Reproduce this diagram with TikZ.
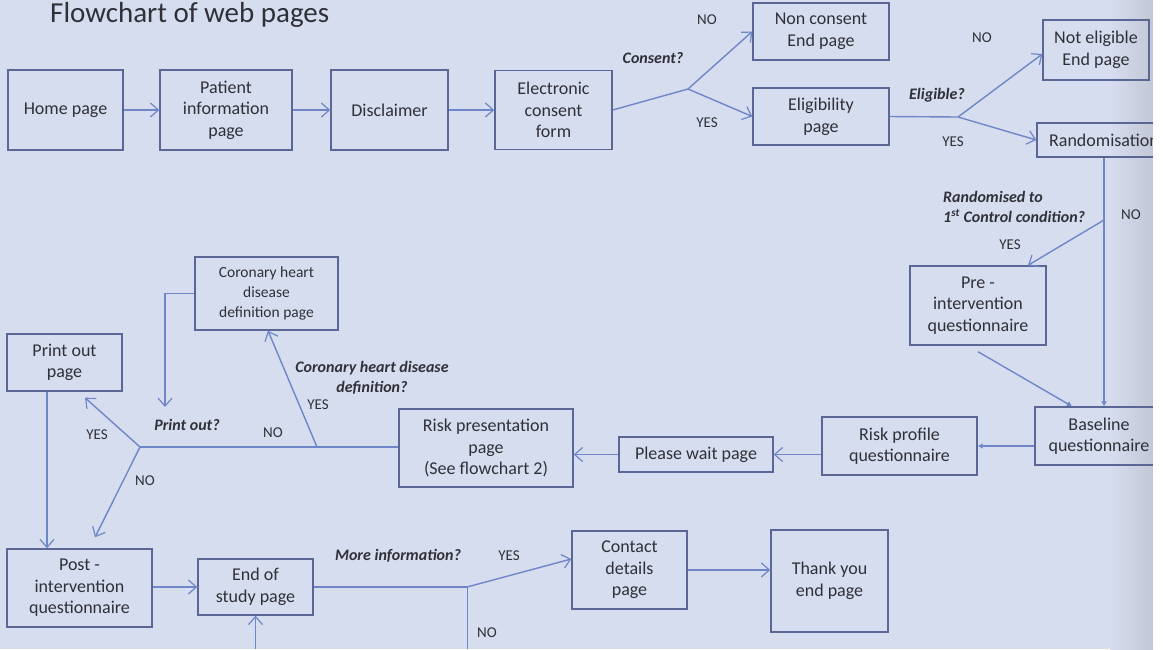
\documentclass[tikz,border=0pt]{standalone}
\usepackage{fontspec}
\setmainfont{Carlito}
\usetikzlibrary{arrows.meta,calc}

\definecolor{bg}{HTML}{D6DDEE}
\definecolor{bgdark}{HTML}{C2C7D6}
\definecolor{boxline}{HTML}{5A6794}
\definecolor{flow}{HTML}{6F86C9}
\definecolor{ink}{HTML}{303038}

\tikzset{
  pagebox/.style={draw=boxline, line width=1.4pt, text=ink, align=center,
    inner sep=0pt, font=\fontsize{18}{21.6}\selectfont},
  flowline/.style={draw=flow, line width=1.4pt},
  flowarrow/.style={flowline, -{Straight Barb[length=8pt,width=14pt,line width=1.2pt]}},
  dotarrow/.style={flowline, -{Latex[length=5pt,width=6pt]}},
  question/.style={text=ink, font=\fontsize{16}{19.5}\selectfont\bfseries\itshape,
    inner sep=0pt, align=center},
  answer/.style={text=ink, font=\fontsize{15}{18}\selectfont, inner sep=0pt},
}

\begin{document}
\begin{tikzpicture}[x=1pt,y=-1pt]
\useasboundingbox (0,0) rectangle (1163,649);
\fill[bg] (0,0) rectangle (1163,649);
\shade[left color=bg, right color=bgdark] (1110,0) rectangle (1153,649);

\begin{scope}
\clip (0,0) rectangle (1153,649);

% title
\node[anchor=base west, text=ink, font=\fontsize{29}{35}\selectfont, inner sep=0pt]
  (title) at (50,22) {Flowchart of web pages};

% pages
\node[pagebox, minimum width=115, minimum height=80] (home)     at (65.5,110)  {Home page};
\node[pagebox, minimum width=132, minimum height=80] (pinfo)    at (226,110)   {Patient\\information\\page};
\node[pagebox, minimum width=117, minimum height=80] (discl)    at (389.5,110) {Disclaimer};
\node[pagebox, minimum width=117, minimum height=79] (econs)    at (553.5,110) {Electronic\\consent\\form};
\node[pagebox, minimum width=136, minimum height=57] (noncons)  at (821,31.5)  {Non consent\\End page};
\node[pagebox, minimum width=136, minimum height=57] (elig)     at (821,116.5) {Eligibility\\page};
\node[pagebox, minimum width=106, minimum height=60] (notelig)  at (1096,50)   {Not eligible\\End page};
\node[pagebox, minimum width=134, minimum height=34] (random)   at (1104,140)  {Randomisation};
\node[pagebox, minimum width=136, minimum height=79] (preint)   at (978,305.5) {Pre -\\intervention\\questionnaire};
\node[pagebox, minimum width=128, minimum height=58] (baseline) at (1099,436)  {Baseline\\questionnaire};
\node[pagebox, minimum width=155, minimum height=58] (riskprof) at (899.5,446) {Risk profile\\questionnaire};
\node[pagebox, minimum width=154, minimum height=35] (wait)     at (696,454.5) {Please wait page};
\node[pagebox, minimum width=174, minimum height=78] (riskpres) at (486,448)   {Risk presentation\\page\\(See flowchart 2)};
\node[pagebox, minimum width=143, minimum height=73,
      font=\fontsize{15.5}{20}\selectfont]             (chd)      at (266.5,293.5) {Coronary heart\\disease\\definition page};
\node[pagebox, minimum width=115, minimum height=57] (printout) at (64.5,362.5) {Print out\\page};
\node[pagebox, minimum width=145, minimum height=78] (postint)  at (79.5,588)   {Post -\\intervention\\questionnaire};
\node[pagebox, minimum width=115, minimum height=56] (endstudy) at (255.5,587)  {End of\\study page};
\node[pagebox, minimum width=115, minimum height=78] (contact)  at (629.5,570)  {Contact\\details\\page};
\node[pagebox, minimum width=117, minimum height=102] (thanks)  at (829.5,581)  {Thank you\\end page};

% branch points and free ends
\coordinate (j1) at (688,89);
\coordinate (j2) at (958,117);
\coordinate (j3) at (1104,220);
\coordinate (j4) at (140,447);
\coordinate (j6) at (317,447);
\coordinate (pq) at (165,407);
\coordinate (j5) at (467,587);
\coordinate (eb) at (255.5,649);
\coordinate (nb) at (467,649);

% top row
\draw[flowarrow] (home) -- (pinfo);
\draw[flowarrow] (pinfo) -- (discl);
\draw[flowarrow] (discl) -- (econs);
\draw[flowline]  (econs.east) -- (j1);
\draw[flowarrow] (j1) -- (noncons.west);
\draw[flowarrow] (j1) -- (elig.west);
\draw[flowline]  (elig.east) -- (j2);
\draw[flowarrow] (j2) -- ($(notelig.west)+(0,4)$);
\draw[flowarrow] (j2) -- (random.west);

% randomisation
\draw[dotarrow]  (random.south) -- (random.south |- baseline.north);
\draw[flowarrow] (j3) -- ($(preint.north)+(50,0)$);
\draw[dotarrow]  ($(preint.south)+(0,6)$) -- ($(baseline.north)+(-27,0)$);

% middle row
\draw[dotarrow]  (baseline.west |- riskprof.east) -- (riskprof.east);
\draw[flowarrow] (riskprof.west |- wait.east) -- (wait.east);
\draw[flowarrow] (wait.west) -- (riskpres.east |- wait.west);
\draw[flowline]  (riskpres.west |- j4) -- (j4);
\draw[flowarrow] (j6) -- ($(chd.south)+(1.5,0)$);
\draw[flowarrow] (chd.west) -| (pq);
\draw[flowarrow] (j4) -- ($(printout.south)+(20.5,6)$);
\draw[flowarrow] (j4) -- ($(postint.north)+(15.5,-11)$);
\draw[flowarrow] ($(printout.south)+(-17.5,0)$) -- ($(postint.north)+(-32.5,0)$);

% bottom row
\draw[flowarrow] (postint.east |- endstudy.west) -- (endstudy.west);
\draw[flowarrow] (eb) -- (endstudy.south);
\draw[flowline]  (endstudy.east) -- (j5);
\draw[flowarrow] (j5) -- ($(contact.west)+(0,-11)$);
\draw[draw=flow, line width=0.9pt] (j5) -- (nb);
\draw[flowarrow] (contact.east) -- (thanks.west |- contact.east);

% decision labels
\node[question] (qcons)  at (653,58)  {Consent?};
\node[answer]   (cno)    at (707,20)  {NO};
\node[answer]   (cyes)   at (707,123) {YES};
\node[question] (qelig)  at (937,95)  {Eligible?};
\node[answer]   (eno)    at (982,38)  {NO};
\node[answer]   (eyes)   at (953,142) {YES};
\node[question, align=left, anchor=west] (qrand) at (943,207)
  {Randomised to\\1\textsuperscript{st} Control condition?};
\node[answer]   (ryes)   at (1010,245) {YES};
\node[answer]   (rno)    at (1131,215) {NO};
\node[question] (qchd)   at (372,378) {Coronary heart disease\\definition?};
\node[answer]   (hyes)   at (318,405) {YES};
\node[answer]   (hno)    at (273,433) {NO};
\node[question] (qprint) at (187,425) {Print out?};
\node[answer]   (pyes)   at (97,435)  {YES};
\node[answer]   (pno)    at (145,481) {NO};
\node[question] (qmore)  at (398,556) {More information?};
\node[answer]   (myes)   at (509,556) {YES};
\node[answer]   (mno)    at (487,633) {NO};
\end{scope}

\fill[white] (1153,0) rectangle (1163,649);
\end{tikzpicture}
\end{document}
